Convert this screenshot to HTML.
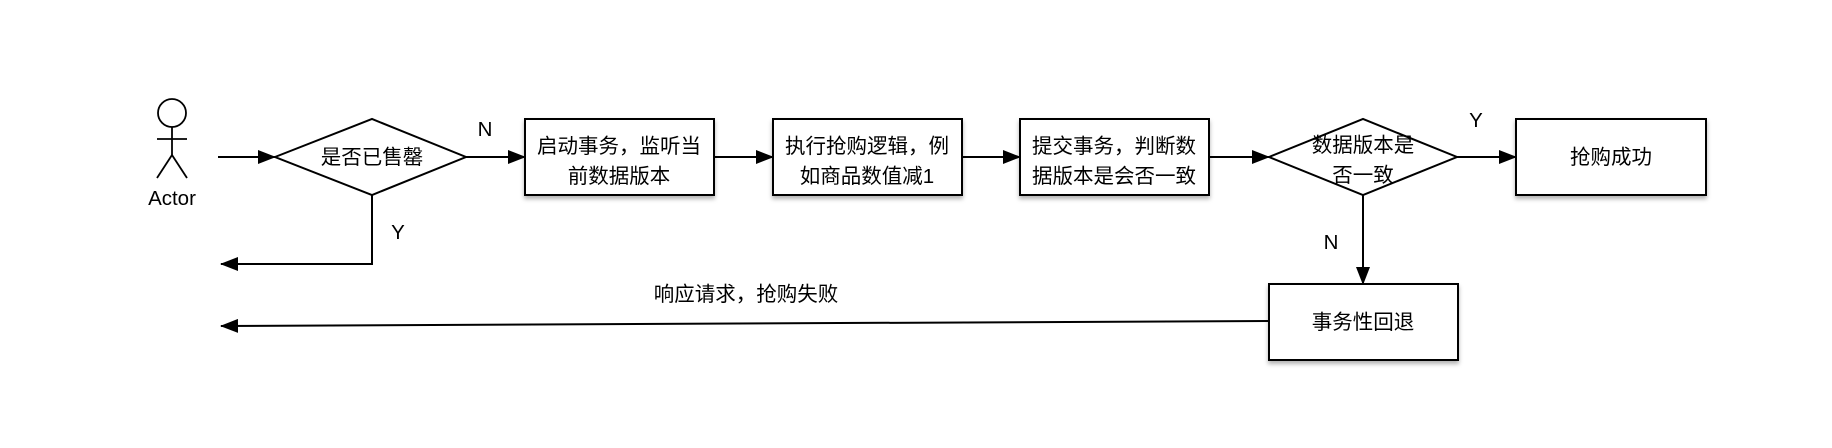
<!DOCTYPE html>
<html><head><meta charset="utf-8"><style>
html,body{margin:0;padding:0;background:#fff;}
svg{display:block}
text{font-family:"Liberation Sans","Noto Sans CJK SC",sans-serif;font-size:20.5px;fill:#000;}
</style></head><body>
<svg width="1832" height="448" viewBox="0 0 1832 448" xmlns="http://www.w3.org/2000/svg">
<defs>
<marker id="a" markerWidth="18" markerHeight="14" refX="17" refY="7" orient="auto" markerUnits="userSpaceOnUse">
<path d="M0,0 L18,7 L0,14 Z" fill="#000"/></marker>
<filter id="s" x="-10%" y="-10%" width="120%" height="130%"><feDropShadow dx="0" dy="3" stdDeviation="2" flood-color="#000" flood-opacity="0.3"/></filter>
</defs>
<g stroke="#000" stroke-width="1.8" fill="none">
<ellipse cx="172" cy="113" rx="14" ry="14"/>
<line x1="172" y1="127" x2="172" y2="155"/>
<line x1="157" y1="139" x2="187" y2="139"/>
<line x1="172" y1="155" x2="157" y2="178"/>
<line x1="172" y1="155" x2="187" y2="178"/>
</g>
<text x="172" y="205" text-anchor="middle" font-size="22">Actor</text>
<g stroke="#000" stroke-width="2" fill="#fff">
<polygon points="275,157 372,119 466,157 372,195"/>
<rect x="525" y="119" width="189" height="76" filter="url(#s)"/>
<rect x="773" y="119" width="189" height="76" filter="url(#s)"/>
<rect x="1020" y="119" width="189" height="76" filter="url(#s)"/>
<polygon points="1269,157 1363,119 1457,157 1363,195"/>
<rect x="1516" y="119" width="190" height="76" filter="url(#s)"/>
<rect x="1269" y="284" width="189" height="76" filter="url(#s)"/>
</g>
<g stroke="#000" stroke-width="2" fill="none" marker-end="url(#a)">
<line x1="218" y1="157" x2="275" y2="157"/>
<line x1="466" y1="157" x2="525" y2="157"/>
<line x1="714" y1="157" x2="773" y2="157"/>
<line x1="962" y1="157" x2="1020" y2="157"/>
<line x1="1209" y1="157" x2="1269" y2="157"/>
<line x1="1457" y1="157" x2="1516" y2="157"/>
<line x1="1363" y1="195" x2="1363" y2="284"/>
<polyline points="372,195 372,264 221,264"/>
<line x1="1269" y1="321" x2="221" y2="326"/>
</g>
<g text-anchor="middle">
<text x="372" y="164">是否已售罄</text>
<text x="619" y="153">启动事务，监听当</text>
<text x="619" y="183">前数据版本</text>
<text x="867" y="153">执行抢购逻辑，例</text>
<text x="867" y="183">如商品数值减1</text>
<text x="1114" y="153">提交事务，判断数</text>
<text x="1114" y="183">据版本是会否一致</text>
<text x="1363" y="152">数据版本是</text>
<text x="1363" y="182">否一致</text>
<text x="1611" y="164">抢购成功</text>
<text x="1363" y="329">事务性回退</text>
<text x="746" y="301">响应请求，抢购失败</text>
<text x="485" y="136" font-size="22">N</text>
<text x="398" y="239" font-size="22">Y</text>
<text x="1476" y="127" font-size="22">Y</text>
<text x="1331" y="249" font-size="22">N</text>
</g>
</svg>
</body></html>
